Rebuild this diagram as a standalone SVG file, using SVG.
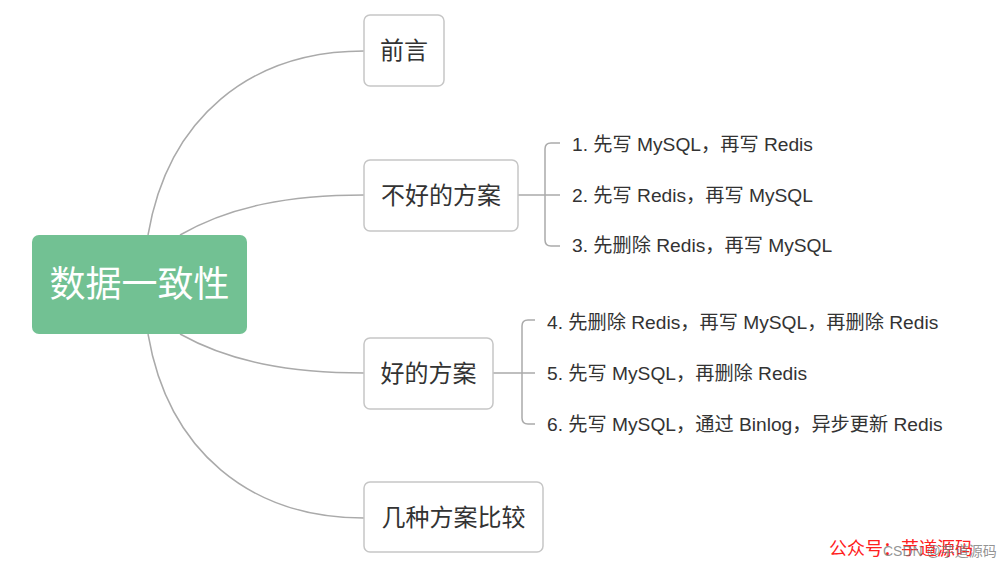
<svg xmlns="http://www.w3.org/2000/svg" width="999" height="566" viewBox="0 0 999 566">
<style>
.box{fill:#fff;stroke:#c6c6c6;stroke-width:1.5}
.lnk{fill:none;stroke:#aaaaaa;stroke-width:1.5}
.t1{font-family:"Noto Sans CJK SC","Noto Sans",sans-serif;font-size:24px;fill:#333}
.t2{font-family:"Liberation Sans","Noto Sans CJK SC",sans-serif;font-size:19.2px;fill:#333}
</style>
<rect width="999" height="566" fill="#fff"/>
<g id="connectors">
<path class="lnk" d="M148,235 C168,118 250,51 364,51"/>
<path class="lnk" d="M180,235 C230,206 290,195 364,195"/>
<path class="lnk" d="M180,334 C230,362 290,373 364,373"/>
<path class="lnk" d="M148,334 C168,451 250,518 364,518"/>
<path class="lnk" d="M518,195 H560 M545,195 V149 Q545,143 551,143 H560 M545,195 V240 Q545,246 551,246 H560"/>
<path class="lnk" d="M493,373 H535 M522,373 V326 Q522,320 528,320 H535 M522,373 V418 Q522,424 528,424 H535"/>
</g>
<g id="root">
<rect x="32" y="235" width="215" height="99" rx="7" fill="#72c193"/>
<text x="139.5" y="297" text-anchor="middle" font-family="Noto Sans CJK SC,sans-serif" font-size="36" fill="#fff">数据一致性</text>
</g>
<g id="n1">
<rect class="box" x="364" y="15" width="80" height="71" rx="6"/>
<text class="t1" x="404" y="59" text-anchor="middle">前言</text>
</g>
<g id="n2">
<rect class="box" x="364" y="160" width="154" height="71" rx="6"/>
<text class="t1" x="441" y="204" text-anchor="middle">不好的方案</text>
</g>
<g id="n3">
<rect class="box" x="364" y="338" width="129" height="71" rx="6"/>
<text class="t1" x="428.5" y="382" text-anchor="middle">好的方案</text>
</g>
<g id="n4">
<rect class="box" x="364" y="482" width="179" height="70" rx="6"/>
<text class="t1" x="453.5" y="526" text-anchor="middle">几种方案比较</text>
</g>
<g id="bad-items">
<text class="t2" x="572" y="151">1. 先写 MySQL，再写 Redis</text>
<text class="t2" x="572" y="202">2. 先写 Redis，再写 MySQL</text>
<text class="t2" x="572" y="252">3. 先删除 Redis，再写 MySQL</text>
</g>
<g id="good-items">
<text class="t2" x="547" y="329">4. 先删除 Redis，再写 MySQL，再删除 Redis</text>
<text class="t2" x="547" y="380">5. 先写 MySQL，再删除 Redis</text>
<text class="t2" x="547" y="431">6. 先写 MySQL，通过 Binlog，异步更新 Redis</text>
</g>
<g id="watermark">
<text x="829" y="555" font-family="Noto Sans CJK SC,sans-serif" font-size="18" fill="#ff2020">公众号：芋道源码</text>
<text x="883" y="556" font-family="Liberation Sans,Noto Sans CJK SC,sans-serif" font-size="14" fill="#777" fill-opacity="0.8">CSDN @芋道源码</text>
</g>
</svg>
